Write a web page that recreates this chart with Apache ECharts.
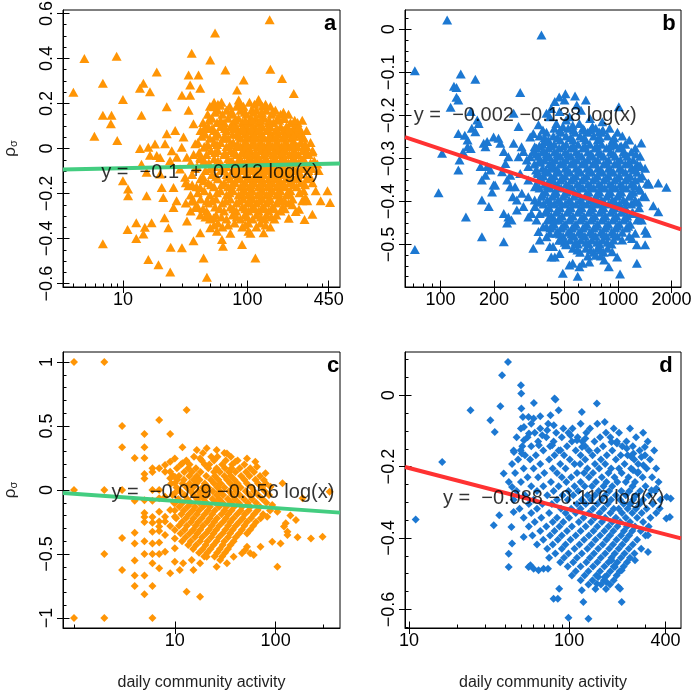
<!DOCTYPE html>
<html>
<head>
<meta charset="utf-8">
<script src="https://cdn.jsdelivr.net/npm/echarts@6.0.0/dist/echarts.min.js"></script>
<style>
  html, body { margin: 0; padding: 0; background: #fff; }
  #chart { width: 697px; height: 693px; }
</style>
</head>
<body>
<div id="chart"></div>
<script>
// panel a: [y, [x, x, ...]] rows of the dense core, plus scattered points [x, y]
const aRows = [
  [.205, [54, 62, 104, 123]],
  [.188, [50, 72, 82, 93, 132, 153]],
  [.17, [58, 68, 88, 108, 118, 142, 168]],
  [.152, [48, 63, 77, 98, 127, 156, 185, 214]],
  [.134, [52, 70, 85, 106, 116, 137, 175, 199]],
  [.116, [44, 57, 65, 77, 91, 104, 123, 148, 162, 222, 253]],
  [.098, [48.5, 61, 73, 81.5, 96, 112, 132, 153, 185, 206, 239]],
  [.08, [42, 54, 68, 88, 102, 118, 142, 168, 195, 231, 268, 299]],
  [.063, [46, 58, 76, 82, 95, 110, 127, 153, 178, 214, 249]],
  [.045, [50, 64, 70, 88, 102, 118, 137, 162, 192, 226, 283]],
  [.027, [40, 54, 61, 77, 95, 110, 127, 148, 175, 206, 239, 268, 322]],
  [.009, [45, 68, 81.5, 88, 102, 120, 137, 159, 188, 222, 253, 299]],
  [-.009, [51, 58, 73, 93, 106, 127, 148, 175, 203, 235, 278, 334]],
  [-.027, [37, 47, 65, 81.5, 98, 114, 135, 159, 185, 218, 258, 310]],
  [-.045, [42, 54, 70, 88, 106, 123, 142, 168, 199, 239, 283]],
  [-.063, [35, 49, 61, 77, 95, 110, 130, 153, 181, 214, 258, 322]],
  [-.08, [39.5, 55, 68, 85, 102, 118, 140, 165, 195, 231, 288]],
  [-.098, [46, 61, 76, 91, 110, 127, 148, 178, 210, 249, 310, 374]],
  [-.116, [36, 52, 68, 81.5, 98, 118, 137, 159, 192, 226, 268]],
  [-.134, [42, 58, 73, 88, 106, 123, 148, 171, 203, 244, 299]],
  [-.152, [32, 48.5, 65, 80, 96, 114, 135, 159, 185, 218, 268, 334]],
  [-.17, [39, 54, 70, 88, 104, 123, 145, 171, 203, 249]],
  [-.188, [45, 61, 77, 95, 110, 132, 159, 185, 222, 283]],
  [-.206, [35, 50, 68, 85, 102, 120, 142, 171, 206]],
  [-.224, [42, 56, 73, 93, 110, 132, 153, 185, 231]],
  [-.242, [32, 48.5, 63, 81.5, 100, 118, 142, 171, 214]],
  [-.26, [40, 55, 73, 91, 110, 132, 159, 192]],
  [-.277, [35, 47, 65, 81.5, 102, 123, 148, 185]],
  [-.295, [42, 56, 76, 95, 118, 142, 171]],
  [-.313, [50, 68, 88, 110, 137, 165]],
  [-.331, [58, 79, 102, 127]],
  [-.349, [63, 91, 118, 153]],
  [-.376, [73, 106]]
];
const aRows2 = [
  [.196, [58, 88, 114, 140]],
  [.161, [55, 74, 95, 112, 131, 160, 195]],
  [.125, [49, 61, 80, 96, 110, 128, 150, 180, 240]],
  [.089, [45, 52, 66, 78, 92, 107, 124, 146, 172, 215, 258]],
  [.054, [43, 55, 66, 86, 100, 114, 133, 150, 170, 200, 235, 270]],
  [.018, [48, 57, 72, 84, 99, 115, 131, 152, 167, 197, 228, 290]],
  [-.018, [41, 55, 66, 78, 90, 101, 117, 140, 163, 192, 245, 300]],
  [-.054, [45, 58, 74, 84, 100, 115, 136, 160, 188, 226, 270, 345]],
  [-.089, [38, 50, 64, 80, 93, 105, 120, 133, 155, 187, 220, 272, 330]],
  [-.125, [44, 56, 71, 84, 101, 113, 129, 152, 176, 212, 255, 320]],
  [-.161, [36, 51, 62, 75, 92, 108, 128, 150, 175, 196, 235, 290]],
  [-.197, [40, 57, 72, 90, 105, 126, 150, 178, 214, 262]],
  [-.233, [37, 52, 67, 86, 104, 124, 148, 178, 200]],
  [-.268, [44, 60, 77, 96, 115, 138, 165, 200]],
  [-.304, [46, 62, 82, 100, 128, 155]],
  [-.34, [54, 70, 96, 140]]
];
const aOut = [
  [4.0,.25],[4.9,.40],[5.9,.054],[6.9,.29],[6.9,.148],[6.9,-.423],[8.1,.148],[8.0,.11],[8.9,.41],[9.0,.036],
  [10,.218],[10,-.143],[10.9,-.36],[11,-.18],[11,-.21],[12.8,-.33],[12.8,-.40],[13.7,.267],[14.1,.148],[13.7,0],
  [14.1,-.07],[14.6,.29],[15,-.35],[14.6,-.38],[15.5,-.105],[15.5,-.21],[16,-.493],[16.5,.252],[16,.006],[16.5,-.03],
  [17,-.33],[18.1,.02],[18.7,.34],[19.3,-.516],[19.9,-.04],[19.9,-.113],[20.5,-.173],[21.1,-.218],[21.6,-.307],[22.5,.185],
  [22.5,.066],[23.2,-.352],[24,-.548],[24.2,-.438],[24.7,-.01],[25.5,-.173],[25.5,-.262],[26.3,.08],[27,-.232],[29.8,-.441],
  [29.8,.237],[30.7,.051],[32.7,-.322],[33.7,.17],[33.7,.326],[34.7,.282],[34.7,.237],[35.7,.423],[36.9,.11],[36.9,-.41],
  [40.5,.326],[41.8,.267],[41.8,-.374],[44.5,-.486],[47.3,-.572],[50.3,.393],[53.5,.185],[55,.513],[60.6,.192],[62.5,-.404],
  [63.7,-.434],[66.6,.349],[77.6,.095],[82.6,.26],[85.2,.215],[90.6,-.426],[93.4,.304],[102,-.367],[116,-.486],[123,.218],
  [135,-.374],[151,.572],[153,.352],[190,.311],[196,.133],[236,.244],[259,.095],[276,.125],[282,.051],[333,-.016],
  [365,-.069],[354,-.188],[388,-.232],[333,-.292],[288,-.315],[440,-.188],[462,-.24],[276,-.232],[303,-.232],[293,-.218],
  [18.7,-.031],[23.9,-.054],[27.1,-.039],[28.8,-.091],[31.6,-.128],[33.6,-.165],[35.8,-.232],[38.1,-.262],[41.8,-.173],[44.5,-.143],
  [47.3,-.232],[48.8,-.292],[50.3,-.352],[53.5,-.307],[56.9,-.367],[32.6,-.039],[38.1,.021],[41.8,-.039],[45.8,.006],[29.7,.006],
  [21.8,.021],[209,-.2],[230,-.25],[245,-.28],[215,-.31],[260,-.27]
];

// panel b
const bRows = [
  [-.23, [437, 523, 633, 748, 895]],
  [-.239, [395, 478, 572, 675, 808, 991]],
  [-.248, [361, 432, 510, 610, 729, 872, 1056]],
  [-.257, [405, 472, 557, 658, 767, 930, 1155]],
  [-.267, [375, 437, 510, 594, 693, 808, 966, 1098]],
  [-.276, [347, 405, 466, 543, 633, 739, 861, 1017, 1248]],
  [-.285, [380, 437, 503, 579, 675, 777, 906, 1070, 1185]],
  [-.295, [356, 410, 472, 543, 625, 720, 829, 966, 1126, 1330]],
  [-.304, [385, 443, 510, 587, 675, 767, 883, 1030, 1216]],
  [-.313, [338, 410, 472, 543, 625, 720, 829, 954, 1098, 1280]],
  [-.323, [375, 437, 503, 579, 667, 767, 883, 1017, 1185, 1418]],
  [-.332, [352, 405, 466, 536, 617, 711, 818, 942, 1098, 1280]],
  [-.341, [380, 437, 503, 579, 667, 767, 883, 1017, 1170, 1365]],
  [-.35, [356, 410, 472, 543, 625, 720, 829, 954, 1098, 1248]],
  [-.36, [385, 443, 510, 587, 675, 777, 895, 1030, 1185, 1492]],
  [-.369, [361, 415, 478, 550, 633, 729, 840, 966, 1112, 1313]],
  [-.378, [390, 448, 516, 594, 684, 787, 906, 1043, 1216]],
  [-.388, [370, 426, 490, 565, 650, 748, 861, 991, 1155, 1382]],
  [-.397, [400, 460, 530, 610, 702, 808, 930, 1070, 1248]],
  [-.406, [380, 437, 503, 579, 667, 767, 883, 1017, 1185]],
  [-.415, [410, 472, 543, 625, 720, 829, 954, 1098, 1313]],
  [-.425, [390, 448, 516, 594, 684, 787, 906, 1043, 1201]],
  [-.434, [421, 484, 557, 642, 739, 850, 979, 1126]],
  [-.443, [400, 460, 530, 610, 702, 808, 930, 1070, 1280]],
  [-.453, [437, 503, 579, 667, 767, 883, 1017, 1170]],
  [-.462, [415, 478, 550, 633, 729, 840, 966, 1112]],
  [-.472, [454, 523, 602, 693, 798, 918, 1056]],
  [-.481, [490, 565, 650, 748, 861, 991, 1155]],
  [-.49, [466, 536, 617, 711, 818, 942]],
  [-.499, [510, 594, 684, 787, 918]],
  [-.509, [557, 658, 767, 872]],
  [-.518, [610, 729, 829]],
  [-.527, [675, 798]]
];
const bRows2 = [
  [-.234, [470, 560, 700, 820]],
  [-.252, [385, 455, 540, 640, 790, 950]],
  [-.271, [360, 420, 490, 560, 650, 760, 900, 1040]],
  [-.29, [345, 395, 455, 520, 600, 700, 800, 940, 1100, 1260]],
  [-.309, [365, 425, 490, 560, 645, 740, 860, 990, 1150]],
  [-.327, [345, 390, 455, 520, 600, 690, 795, 910, 1050, 1230]],
  [-.346, [365, 420, 485, 560, 645, 745, 855, 985, 1130, 1320]],
  [-.364, [350, 400, 460, 530, 610, 700, 805, 930, 1060, 1240]],
  [-.383, [375, 435, 500, 575, 665, 765, 880, 1010, 1180]],
  [-.402, [360, 415, 475, 545, 630, 725, 835, 965, 1110, 1300]],
  [-.42, [395, 455, 525, 605, 700, 805, 925, 1060]],
  [-.439, [410, 470, 540, 625, 720, 830, 955, 1100]],
  [-.458, [425, 490, 565, 650, 750, 860, 990, 1140]],
  [-.476, [470, 545, 625, 720, 830, 950]],
  [-.495, [500, 575, 660, 760, 870]],
  [-.513, [590, 700, 800]]
];
const bOut = [
  [109,.022],[370,-.013],[71.7,-.096],[71.7,-.512],[130,-.104],[157,-.116],[119,-.132],[123,-.135],[123,-.158],[126,-.164],
  [114,-.181],[102,-.288],[97.5,-.38],[139,-.436],[171,-.482],[281,-.147],[466,-.157],[505,-.15],[572,-.155],[1009,-.18],
  [1350,-.264],[1870,-.367],[1480,-.357],[1683,-.357],[1577,-.41],[1683,-.424],[1275,-.544],[1025,-.569],[488,-.567],[592,-.574],
  [420,-.529],[227,-.494],[199,-.362],[126,-.327],[142,-.273],[148,-.277],[126,-.242],[137,-.246],[142,-.257],[128,-.304],
  [134,-.285],[150,-.23],[157,-.238],[148,-.191],[161,-.211],[164,-.219],[175,-.265],[179,-.273],[183,-.261],[168,-.319],
  [171,-.35],[179,-.339],[183,-.319],[191,-.327],[171,-.397],[187,-.412],[195,-.378],[203,-.362],[212,-.253],[217,-.265],
  [199,-.25],[227,-.284],[232,-.312],[241,-.296],[222,-.331],[237,-.35],[247,-.366],[255,-.389],[269,-.42],[227,-.428],
  [241,-.436],[237,-.45],[251,-.443],[258,-.195],[275,-.226],[286,-.273],[275,-.296],[306,-.304],[312,-.319],[281,-.335],
  [333,-.284],[339,-.273],[320,-.25],[333,-.242],[356,-.222],[377,-.234],[312,-.389],[339,-.397],[325,-.428],[356,-.47],
  [395,-.459],[412,-.474],[362,-.49],[333,-.509],[395,-.195],[412,-.203],[440,-.168],[420,-.184],[468,-.191],[499,-.164],
  [585,-.176],[618,-.188],[658,-.164],[717,-.226],[781,-.238],[695,-.207],[814,-.215],[926,-.269],[1025,-.273],[1146,-.31],
  [1302,-.319],[1330,-.316],[1450,-.358],[1330,-.374],[1419,-.389],[1248,-.4],[1220,-.428],[1302,-.44],[1360,-.443],[1419,-.467],
  [1450,-.474],[1248,-.474],[1196,-.486],[1275,-.501],[1419,-.501],[1054,-.49],[926,-.517],[987,-.529],[834,-.536],[886,-.552],
  [748,-.525],[688,-.541],[605,-.552],[630,-.544],[532,-.548],[555,-.544],[468,-.521],[440,-.529],[510,-.501],[488,-.49],
  [430,-.505],[510,-.211],[555,-.223],[605,-.219],[645,-.234],[489,-.226],[449,-.219],[532,-.203],[258,-.265],[293,-.284],
  [263,-.366],[287,-.381],[312,-.35],[319,-.296],[247,-.339],[269,-.397],[293,-.412],[312,-.436],[340,-.412],[347,-.443],
  [362,-.428],[378,-.459],[395,-.482],[412,-.505],[340,-.366],[355,-.335],[362,-.304],[378,-.281],[395,-.261],[403,-.296],
  [420,-.319],[430,-.35],[440,-.381],[440,-.443],[449,-.474],[468,-.49]
];

// panel c
const cRows = [
  [.29, [19, 31]],
  [.26, [15.5, 23, 26.5, 36]],
  [.23, [13, 18.5, 24.5, 32, 42]],
  [.2, [11.5, 14, 19.8, 22, 29.5, 37, 49]],
  [.17, [10.5, 13.6, 16.2, 21.5, 26, 31.5, 36.5, 44, 56]],
  [.14, [12.4, 14.8, 18, 24.5, 28, 34.5, 40, 51, 61]],
  [.11, [9.6, 11, 13.9, 16.5, 20.5, 25, 31, 36, 45.5, 55, 70]],
  [.08, [10.6, 12.3, 15.4, 17.6, 22.8, 27, 33, 39, 49, 63]],
  [.05, [9.2, 11.9, 14, 16.4, 19.8, 24.5, 28.5, 35.5, 42, 52, 67, 80]],
  [.02, [10.4, 13.1, 15.2, 18.8, 21.5, 26.5, 31, 38.5, 45, 58, 73]],
  [-.01, [11.3, 14.4, 17, 19.6, 23.8, 28, 34.5, 40.5, 50.5, 61, 78]],
  [-.04, [9.5, 12.5, 15.3, 18, 21.2, 26, 30.2, 37, 44, 55, 67, 86]],
  [-.07, [10.8, 13.3, 16.6, 19.3, 23.6, 27.6, 33.5, 39.5, 48.5, 58.5, 74]],
  [-.1, [9.8, 12, 14.4, 17.5, 20.6, 25.3, 29.8, 36.2, 43, 53, 64, 81]],
  [-.13, [11.1, 13.4, 15.8, 19, 22.3, 27.5, 32.5, 38.8, 46.5, 56, 70]],
  [-.16, [10, 12.3, 15, 17.4, 21.3, 25, 31, 36.5, 45, 54, 66, 88]],
  [-.19, [11.6, 13.8, 16.6, 19.8, 23.5, 29, 34, 41.5, 49.5, 61, 75]],
  [-.22, [10.3, 12.9, 15.3, 18.5, 22.2, 26.3, 32.2, 38.2, 47, 57, 71]],
  [-.25, [11.8, 14.5, 17.1, 20.8, 24.6, 30, 35.6, 43.5, 52, 64]],
  [-.28, [11, 13.2, 16.1, 19, 23.2, 27.6, 33.8, 40.2, 49, 60]],
  [-.31, [12.5, 15.2, 17.9, 21.8, 25.8, 31.7, 37.6, 46.3, 56]],
  [-.34, [11.4, 14, 16.7, 20.4, 24.2, 29.8, 35.3, 43.4, 52]],
  [-.37, [12.8, 15.8, 18.7, 23, 27.4, 33.8, 40.2]],
  [-.4, [11.8, 14.4, 17.8, 21.1, 26, 31, 38.3]],
  [-.43, [13.6, 16.3, 20.2, 24.2, 29.8, 35.7]],
  [-.46, [15.2, 18.9, 22.6, 28, 33.7]],
  [-.49, [17.4, 21, 26.3, 31.5]],
  [-.52, [19.6, 24.8, 29.5]]
];
const cOut = [
  [1,1],[1,0],[1,-1],[2,1],[2,0],[2,-.5],[2,-1],[3,.5],[3,.333],[3,0],[3,-.375],[3,-.625],
  [4,.25],[4,-.083],[4,-.333],[4,-.417],[4,-.55],[4,-.667],[4,-.75],
  [5,.4375],[5,.333],[5,.25],[5,.125],[5,.09],[5,-.08],[5,-.18],[5,-.21],[5,-.25],[5,-.4],[5,-.5],[5,-.667],[5,-.815],
  [6,.17],[6,.14],[6,0],[6,-.083],[6,-.21],[6,-.255],[6,-.326],[6,-.417],[6,-.5],[6,-.573],[6,-.75],[6,-1],
  [7,.547],[7,.17],[7,0],[7,-.065],[7,-.17],[7,-.247],[7,-.286],[7,-.32],[7,-.41],[7,-.5],[7,-.612],
  [8,.195],[8,.143],[8,-.052],[8,-.208],[8,-.247],[8,-.352],[8,-.482],
  [9,.4375],[9,.221],[9,.143],[9,.091],[9,-.156],[9,-.281],[9,-.651],
  [10,.247],[10,.104],[10,.052],[10,-.026],[10,-.104],[10,-.208],[10,-.3125],[10,-.378],[10,-.456],[10,-.56],
  [13.1,.625],[11.9,.333],[16.5,.3125],[20.7,.326],[26,.3125],[32.9,.286],[39.8,.221],[52,.247],[62.9,.221],[65.3,.182],
  [79.4,.13],[17.8,.247],[11.9,.208],[76.5,.078],[89.1,.026],[92.6,-.117],[82.5,-.208],[104,-.169],[117,.052],[121,-.286],
  [131,-.326],[131,-.352],[112,-.417],[92.6,-.404],[70.8,-.443],[60.7,-.508],[52,-.443],[46.4,-.495],[165,-.37],[224,-.378],
  [292,-.365],[343,-.013],[185,-.065],[159,-.234],[126,-.26],[140,-.2],
  [13.1,-.794],[17.8,-.833],[14.7,-.547],[15.3,-.625],[12.1,-.573],[11.2,-.625],[28.2,-.547],[20.7,-.521],[17.8,-.573],[26,-.599],
  [38.3,-.521],[32.9,-.573],[50,-.469],[56,-.495],[104,-.599]
];

// panel d
const dRows = [
  [-.08, [58, 74, 118, 150]],
  [-.093, [50, 66, 92, 105, 135, 190, 240]],
  [-.105, [61, 83, 99, 128, 170, 205, 290]],
  [-.118, [47, 55, 72, 90, 113, 156, 181, 262]],
  [-.13, [64, 80, 104, 121, 144, 199, 228, 310]],
  [-.143, [51, 58, 76, 97, 126, 163, 215, 250]],
  [-.155, [45, 69, 86, 110, 133, 150, 186, 276, 340]],
  [-.168, [53, 62, 81, 93, 118, 140, 172, 210, 232, 298]],
  [-.18, [48, 57, 75, 101, 126, 158, 196, 255, 320]],
  [-.193, [44, 66, 88, 108, 117, 145, 168, 222, 270]],
  [-.205, [52, 60, 79, 95, 130, 154, 183, 205, 244, 305, 350]],
  [-.218, [46, 70, 84, 112, 124, 141, 176, 213, 268]],
  [-.23, [55, 64, 90, 103, 133, 160, 192, 235, 288, 330]],
  [-.243, [42, 50, 77, 96, 118, 147, 171, 200, 226, 258, 362]],
  [-.255, [58, 69, 86, 108, 125, 139, 164, 186, 249, 300]],
  [-.268, [47, 63, 80, 99, 114, 153, 178, 212, 238, 278, 345]],
  [-.28, [53, 73, 91, 106, 130, 145, 168, 196, 226, 262, 315]],
  [-.293, [45, 60, 84, 98, 120, 137, 159, 183, 208, 251, 290, 372]],
  [-.305, [56, 68, 78, 112, 127, 150, 174, 219, 241, 276, 333]],
  [-.318, [49, 63, 89, 103, 118, 141, 164, 190, 204, 232, 262, 305]],
  [-.33, [58, 75, 95, 110, 133, 155, 181, 214, 248, 284, 350]],
  [-.343, [52, 67, 84, 100, 123, 145, 168, 196, 226, 266, 322]],
  [-.355, [61, 79, 92, 115, 137, 160, 186, 208, 240, 290]],
  [-.368, [56, 72, 87, 104, 127, 150, 176, 200, 230, 258, 314]],
  [-.38, [66, 81, 97, 118, 142, 166, 189, 220, 248, 280]],
  [-.393, [59, 76, 90, 110, 133, 156, 180, 211, 237, 300]],
  [-.405, [69, 85, 102, 124, 146, 171, 198, 226, 266]],
  [-.418, [63, 79, 95, 116, 138, 162, 188, 215, 250]],
  [-.43, [73, 90, 108, 130, 152, 178, 204, 236, 282]],
  [-.443, [82, 99, 120, 143, 168, 193, 222, 256]],
  [-.455, [75, 93, 112, 135, 158, 184, 211, 240]],
  [-.468, [88, 106, 128, 150, 176, 200, 230]],
  [-.48, [98, 118, 141, 166, 190, 219]],
  [-.493, [110, 132, 156, 181, 207]],
  [-.505, [104, 125, 148, 172, 198]],
  [-.518, [118, 140, 165, 190]],
  [-.53, [132, 158, 180]],
  [-.543, [146, 170]]
];
const dOut = [
  [11,-.348],[16.1,-.187],[24.2,-.042],[32.2,-.07],[34.3,-.103],[37.2,-.031],[38.1,.056],[41.5,.093],[50,.028],[50.2,.005],
  [50.3,-.037],[51.4,-.061],[50.7,-.163],[39,-.219],[44,-.257],[33.8,-.364],[36.6,-.336],[41.9,-.444],[41.9,-.481],[44,-.415],
  [43.6,-.369],[45,-.327],[52,-.397],[55.8,-.481],[57.3,-.476],[60,-.486],[64.4,-.49],[69.2,-.486],[73.8,-.486],[79.9,-.57],
  [85,-.57],[86.7,-.542],[99,-.623],[132,-.626],[120,-.546],[122.8,-.579],[149,-.023],[167,-.075],[86,-.042],[81,-.009],
  [120,-.047],[66,-.059],[60,-.065],[55.8,-.061],[184,-.131],[297,-.145],[405,-.345],[431,-.289],[368,-.317],[311,-.392],
  [311,-.439],[258,-.462],[213,-.579],[208,-.542],[203,-.537],[167,-.509],[171,-.523],[149,-.528],[152,-.509],[213,-.49],
  [193,-.481],[184,-.462],[283,-.173],[270,-.215],[245,-.173],[251,-.21],[327,-.266],[351,-.261],
  [82.2,-.012],[60.2,-.022],[76.5,-.056],[52.2,-.089],[56.1,-.107],[67.9,-.112],[72.9,-.098],[80.2,-.084],[52.2,-.126],[45.2,-.159],
  [49.8,-.154],[64.7,-.14],[78.4,-.14],[88.3,-.154],[101.9,-.112],[112,-.126],[126.3,-.121],[120.5,-.145],[199,-.135],[229,-.149],
  [252,-.163],[291,-.196],[407,-.285],[426,-.341]
];

// regression coefficients: y = a + b log10(x)
const fitA = [-0.1, 0.012];
const fitB = [-0.002, -0.138];
const fitC = [-0.029, -0.056];
const fitD = [-0.088, -0.116];

// axis labels and minor tick positions
const xLabelsA = [10, 100, 450];
const xMinorA = [4, 5, 6, 7, 8, 9, 20, 30, 40, 50, 60, 70, 80, 90, 200, 300, 400];
const yLabelsA = [-0.6, -0.4, -0.2, 0, 0.2, 0.4, 0.6];
const xLabelsB = [100, 200, 500, 1000, 2000];
const xMinorB = [70, 80, 90, 300, 400, 600, 700, 800, 900];
const yLabelsB = [-0.5, -0.4, -0.3, -0.2, -0.1, 0];
const xLabelsC = [10, 100];
const xMinorC = [1, 300];
const yLabelsC = [-1, -0.5, 0, 0.5, 1];
const xLabelsD = [10, 100, 400];
const xMinorD = [20, 30, 40, 50, 60, 70, 80, 90, 200, 300];
const yLabelsD = [-0.6, -0.4, -0.2, 0];

const FONT = 'Liberation Sans, Arial, Helvetica, sans-serif';
const ORANGE = '#ff9505';
const BLUE = '#1c78d2';
const GREEN = '#43cd80';
const RED = '#ff3232';
const MINUS = '\u2212';

const fmtNum = v => String(v).replace('-', MINUS);
const unrow = rows => rows.flatMap(([y, xs]) => xs.map(x => [x, y]));
function stepTicks(min, max, step) {
  const out = [];
  for (let k = Math.ceil(min / step - 1e-9); k * step <= max + 1e-9; k++) out.push(+(k * step).toFixed(4));
  return out;
}
function eqText(f) {
  const [a, b] = f;
  return 'y =  ' + fmtNum(a) + (b >= 0 ? '  +  ' + b : ' ' + fmtNum(b)) + ' log(x)';
}

const panels = [
  { grid: { left: 63, top: 10, width: 277, height: 277 }, xr: [3.3, 555], yr: [-0.615, 0.615],
    xl: xLabelsA, xm: xMinorA, yl: yLabelsA, ys: 0.05, pts: unrow(aRows).concat(unrow(aRows2), aOut),
    color: ORANGE, symbol: 'triangle', size: [10, 9], fit: fitA, fitColor: GREEN,
    eq: [50, -0.105], letter: 'a', at: [330, 24], rho: true, xname: false },
  { grid: { left: 405, top: 10, width: 276, height: 277 }, xr: [63.1, 2259], yr: [-0.599, 0.045],
    xl: xLabelsB, xm: xMinorB, yl: yLabelsB, ys: 0.025, pts: unrow(bRows).concat(unrow(bRows2), bOut),
    color: BLUE, symbol: 'triangle', size: [10, 9], fit: fitB, fitColor: RED,
    eq: [300, -0.2], letter: 'b', at: [669, 24], rho: false, xname: false },
  { grid: { left: 63, top: 352, width: 277, height: 276 }, xr: [0.778, 435], yr: [-1.078, 1.078],
    xl: xLabelsC, xm: xMinorC, yl: yLabelsC, ys: 0.1, pts: unrow(cRows).concat(cOut),
    color: ORANGE, symbol: 'diamond', size: 8, fit: fitC, fitColor: GREEN,
    eq: [30, -0.02], letter: 'c', at: [333, 366], rho: true, xname: true },
  { grid: { left: 405, top: 352, width: 276, height: 276 }, xr: [9.43, 500], yr: [-0.652, 0.121],
    xl: xLabelsD, xm: xMinorD, yl: yLabelsD, ys: 0.05, pts: unrow(dRows).concat(dOut),
    color: BLUE, symbol: 'diamond', size: 8, fit: fitD, fitColor: RED,
    eq: [80, -0.29], letter: 'd', at: [666, 366], rho: false, xname: true }
];

function axisSet(gi, isX, range, labels, minor, extra) {
  const base = {
    type: isX ? 'log' : 'value', gridIndex: gi, min: range[0], max: range[1],
    position: isX ? 'bottom' : 'left', offset: 0,
    splitLine: { show: false }, axisPointer: { show: false }, silent: true
  };
  if (isX) base.logBase = 10;
  const tickStyle = { color: '#000', width: 1 };
  const main = Object.assign({}, base, {
    axisLine: { show: true, onZero: false, lineStyle: { color: '#000', width: 1 } },
    axisTick: { show: true, inside: true, length: 3.5, customValues: minor, lineStyle: tickStyle },
    axisLabel: {
      show: true, customValues: labels, formatter: fmtNum, fontSize: 18, color: '#000',
      fontFamily: FONT, margin: isX ? 4 : 7, rotate: isX ? 0 : 90
    }
  }, extra);
  const majIn = Object.assign({}, base, {
    axisLine: { show: false, onZero: false },
    axisTick: { show: true, inside: true, length: 6.5, customValues: labels, lineStyle: tickStyle },
    axisLabel: { show: false }
  });
  const majOut = Object.assign({}, base, {
    axisLine: { show: false, onZero: false },
    axisTick: { show: true, inside: false, length: 6, customValues: labels, lineStyle: tickStyle },
    axisLabel: { show: false }
  });
  return [main, majIn, majOut];
}

const grid = [], xAxis = [], yAxis = [], series = [], graphic = [];
panels.forEach((p, i) => {
  grid.push(Object.assign({ show: true, borderColor: '#000', borderWidth: 1, outerBoundsMode: 'none' }, p.grid));
  const xExtra = p.xname ? {
    name: 'daily community activity', nameLocation: 'middle', nameGap: 47,
    nameTextStyle: { fontSize: 16, color: '#222', fontFamily: FONT }
  } : {};
  const yExtra = p.rho ? {
    name: '{r|ρ}{s|σ}', nameLocation: 'middle', nameGap: 44, nameRotate: 90,
    nameTextStyle: {
      fontFamily: FONT, color: '#222',
      rich: { r: { fontSize: 17, fontFamily: FONT }, s: { fontSize: 11, fontFamily: FONT, padding: [6, 0, 0, 0] } }
    }
  } : {};
  xAxis.push(...axisSet(i, true, p.xr, p.xl, p.xm, xExtra));
  yAxis.push(...axisSet(i, false, p.yr, p.yl, stepTicks(p.yr[0], p.yr[1], p.ys), yExtra));
  const xi = i * 3;
  series.push({
    type: 'scatter', xAxisIndex: xi, yAxisIndex: xi, data: p.pts, symbol: p.symbol,
    symbolSize: p.size, itemStyle: { color: p.color, opacity: 1 }, silent: true, z: 2
  });
  const [a, b] = p.fit;
  series.push({
    type: 'line', xAxisIndex: xi, yAxisIndex: xi, symbol: 'none', silent: true, z: 3,
    data: p.xr.map(x => [x, a + b * Math.log10(x)]),
    lineStyle: { color: p.fitColor, width: 4 }
  });
  series.push({
    type: 'scatter', xAxisIndex: xi, yAxisIndex: xi, data: [p.eq], symbolSize: 0, silent: true, z: 4,
    label: {
      show: true, position: 'inside', formatter: eqText(p.fit), fontSize: 20,
      color: '#000', fontFamily: FONT
    }
  });
  graphic.push({
    type: 'text', x: p.at[0], y: p.at[1], z: 10,
    style: { text: p.letter, font: 'bold 22px ' + FONT, fill: '#000', align: 'center', verticalAlign: 'middle' }
  });
});

const chart = echarts.init(document.getElementById('chart'), null, { renderer: 'canvas' });
chart.setOption({
  animation: false,
  backgroundColor: '#fff',
  grid, xAxis, yAxis, series, graphic
});
</script>
</body>
</html>
